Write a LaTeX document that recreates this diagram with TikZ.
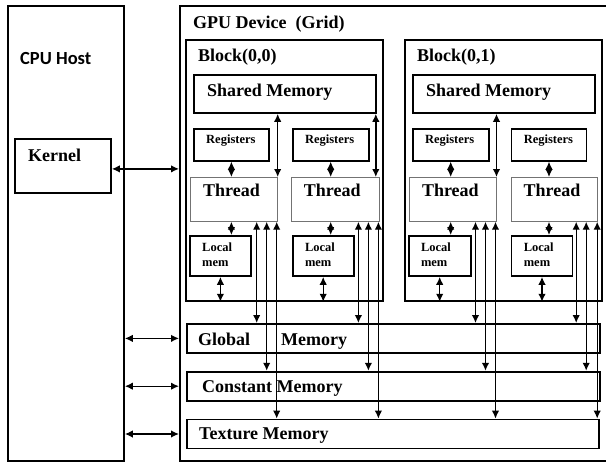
\documentclass[tikz,border=0pt]{standalone}
\usepackage{fontspec}
\setmainfont{Liberation Serif}
\newfontfamily\hostfont{Carlito}
\usetikzlibrary{arrows.meta,positioning}

\begin{document}
\begin{tikzpicture}[
  x=1pt, y=-1pt,
  % STYLES
  every node/.style={inner sep=0pt},
  box/.style={draw, line width=1.8pt, anchor=north west},
  tbox/.style={draw=black!55, line width=0.7pt, anchor=north west},
  % TEXTS
  big/.style={font=\fontsize{18}{20}\selectfont\bfseries},
  small/.style={font=\fontsize{12.5}{15}\selectfont\bfseries, align=left},
  host/.style={font=\fontsize{18.5}{20}\selectfont\hostfont\bfseries},
  link/.style={{Latex[length=8pt,width=7.5pt]}-{Latex[length=8pt,width=7.5pt]}, line width=1.4pt}]

  \useasboundingbox (0,0) rectangle (606,463);

  % host and device
  \node[box, minimum width=116pt, minimum height=455pt] (cpu) at (7,5) {};
  \node[box, minimum width=96pt, minimum height=54pt] (kernel) at (14,138) {};
  \node[box, minimum width=432pt, minimum height=455pt] (gpu) at (179,5) {};

  \node[host, below right=47pt and 13pt of cpu.north west] (cpulbl) {CPU Host};
  \node[big, below right=11pt and 14pt of kernel.north west] (kernellbl) {Kernel};
  \node[big, below right=11pt and 14pt of gpu.north west] (gpulbl) {GPU Device\ \ (Grid)};

  % blocks
  \node[box, minimum width=197pt, minimum height=261pt] (block0) at (185,39) {};
  \node[box, minimum width=197pt, minimum height=261pt, right=20pt of block0] (block1) {};

  \node[big, below right=10pt and 13pt of block0.north west] (blk0lbl) {Block(0,0)};
  \node[big, below right=10pt and 13pt of block1.north west] (blk1lbl) {Block(0,1)};

  % block (0,0)
  \node[box, minimum width=182pt, minimum height=38pt,
        below right=35pt and 8pt of block0.north west] (shared0) {};
  \node[box, minimum width=75pt, minimum height=32pt,
        below right=14pt and 0pt of shared0.south west] (reg00) {};
  \node[box, minimum width=76pt, minimum height=32pt, right=22pt of reg00] (reg01) {};
  \node[tbox, minimum width=87pt, minimum height=44pt,
        below right=138pt and 5pt of block0.north west] (thr00) {};
  \node[tbox, minimum width=88pt, minimum height=44pt, right=13pt of thr00] (thr01) {};
  \node[box, minimum width=61pt, minimum height=40pt,
        below right=196pt and 4pt of block0.north west] (loc00) {};
  \node[box, minimum width=61pt, minimum height=40pt, right=40pt of loc00] (loc01) {};

  % block (0,1)
  \node[box, minimum width=182pt, minimum height=38pt,
        below right=35pt and 8pt of block1.north west] (shared1) {};
  \node[box, minimum width=76pt, minimum height=32pt,
        below right=14pt and 0pt of shared1.south west] (reg10) {};
  \node[box, minimum width=75pt, minimum height=32pt, right=21pt of reg10] (reg11) {};
  \node[tbox, minimum width=87pt, minimum height=44pt,
        below right=138pt and 5pt of block1.north west] (thr10) {};
  \node[tbox, minimum width=86pt, minimum height=44pt, right=14pt of thr10] (thr11) {};
  \node[box, minimum width=62pt, minimum height=40pt,
        below right=196pt and 4pt of block1.north west] (loc10) {};
  \node[box, minimum width=61pt, minimum height=40pt, right=39pt of loc10] (loc11) {};

  \foreach \s in {shared0,shared1}
    \node[big, below right=10pt and 14pt of \s.north west] (\s lbl) {Shared Memory};
  \foreach \r in {reg00,reg01,reg10,reg11}
    \node[small, below right=7pt and 13pt of \r.north west] (\r lbl) {Registers};
  \foreach \t in {thr00,thr01,thr10,thr11}
    \node[big, below right=7pt and 13pt of \t.north west] (\t lbl) {Thread};
  \foreach \l in {loc00,loc01,loc10,loc11}
    \node[small, below right=8pt and 13pt of \l.north west] (\l lbl) {Local\\mem};

  % memories
  \node[box, minimum width=413pt, minimum height=29pt] (global) at (186,323) {};
  \node[box, minimum width=413pt, minimum height=29pt, below=17pt of global] (const) {};
  \node[box, minimum width=412pt, minimum height=29pt, below=17pt of const.south west,
        anchor=north west] (tex) {};

  \node[big, below right=10pt and 12pt of global.north west] (globallbl) {Global\hspace{31pt}Memory};
  \node[big, below right=10pt and 16pt of const.north west] (constlbl) {Constant Memory};
  \node[big, below right=9pt and 13pt of tex.north west] (texlbl) {Texture Memory};

  % host links
  \draw[link] ([yshift=-3pt]kernel.east) -- ([yshift=-3pt]kernel.east -| gpu.west);
  \path[link]
    (cpu.east |- global.west) edge (gpu.west |- global.west)
    (cpu.east |- const.west) edge (gpu.west |- const.west)
    (cpu.east |- tex.west) edge (gpu.west |- tex.west);

  % links inside the blocks
  \path[link]
    (reg00.south) edge (reg00.south |- thr00.north)
    (reg01.south) edge (reg01.south |- thr01.north)
    (reg10.south) edge (reg10.south |- thr10.north)
    (reg11.south) edge (reg11.south |- thr11.north)
    (reg00.south |- thr00.south) edge (reg00.south |- loc00.north)
    (reg01.south |- thr01.south) edge (reg01.south |- loc01.north)
    (reg10.south |- thr10.south) edge (reg10.south |- loc10.north)
    (reg11.south |- thr11.south) edge (reg11.south |- loc11.north)
    (loc00.south) edge (loc00.south |- block0.south)
    (loc01.south) edge (loc01.south |- block0.south)
    (loc10.south) edge (loc10.south |- block1.south)
    (loc11.south) edge (loc11.south |- block1.south)
    (shared0.south -| thr00.north east) edge (thr00.north east)
    ([xshift=-1pt]shared0.south east) edge ([xshift=-1pt]shared0.south east |- thr01.north)
    (shared1.south -| thr10.north east) edge (thr10.north east);

  % threads to global, constant and texture memory
  \path[link]
    ([xshift=-21pt]thr00.south east) edge ([xshift=-21pt]thr00.south east |- global.north)
    ([xshift=-11pt]thr00.south east) edge ([xshift=-11pt]thr00.south east |- const.north)
    ([xshift=-1pt]thr00.south east) edge ([xshift=-1pt]thr00.south east |- tex.north)
    ([xshift=-21pt]thr01.south east) edge ([xshift=-21pt]thr01.south east |- global.north)
    ([xshift=-11pt]thr01.south east) edge ([xshift=-11pt]thr01.south east |- const.north)
    ([xshift=-1pt]thr01.south east) edge ([xshift=-1pt]thr01.south east |- tex.north)
    ([xshift=-21pt]thr10.south east) edge ([xshift=-21pt]thr10.south east |- global.north)
    ([xshift=-11pt]thr10.south east) edge ([xshift=-11pt]thr10.south east |- const.north)
    ([xshift=-1pt]thr10.south east) edge ([xshift=-1pt]thr10.south east |- tex.north)
    ([xshift=-21pt]thr11.south east) edge ([xshift=-21pt]thr11.south east |- global.north)
    ([xshift=-11pt]thr11.south east) edge ([xshift=-11pt]thr11.south east |- const.north)
    ([xshift=0pt]thr11.south east) edge ([xshift=0pt]thr11.south east |- tex.north);
\end{tikzpicture}
\end{document}
